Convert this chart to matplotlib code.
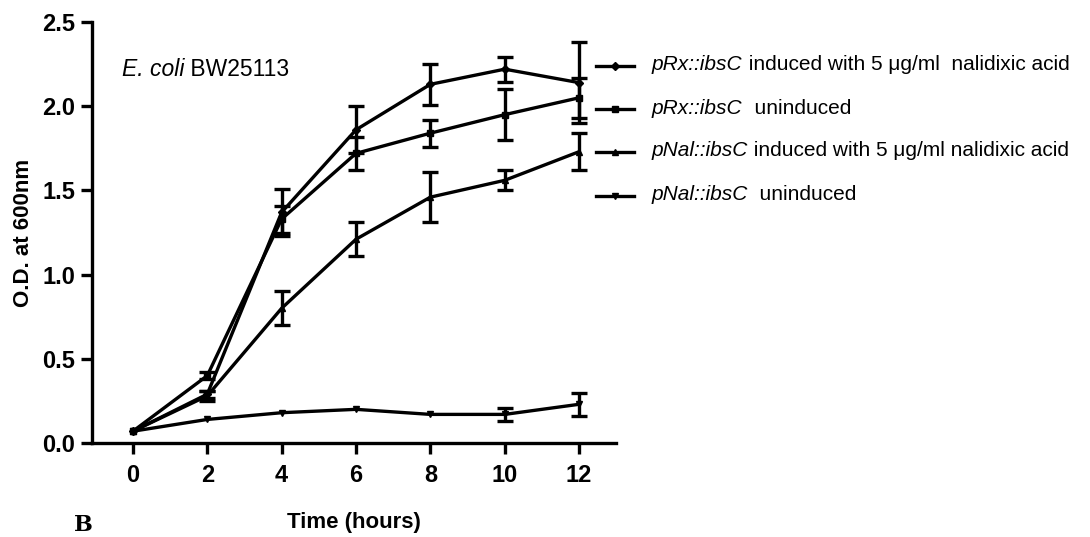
import numpy as np
import matplotlib
matplotlib.use("Agg")
import matplotlib.pyplot as plt

plt.rcParams['font.family'] = ['Liberation Sans', 'DejaVu Sans']

# данные
time_h = [0, 2, 4, 6, 8, 10, 12]

rx_induced = [0.07, 0.29, 1.37, 1.86, 2.13, 2.22, 2.14]
rx_induced_err = [np.nan, 0.02, 0.14, 0.14, 0.12, 0.075, 0.24]

rx_uninduced = [0.07, 0.40, 1.33, 1.72, 1.84, 1.95, 2.05]
rx_uninduced_err = [np.nan, 0.02, 0.08, 0.10, 0.08, 0.15, 0.12]

nal_induced = [0.07, 0.28, 0.80, 1.21, 1.46, 1.56, 1.73]
nal_induced_err = [np.nan, 0.03, 0.10, 0.10, 0.15, 0.06, 0.11]

nal_uninduced = [0.07, 0.14, 0.18, 0.20, 0.17, 0.17, 0.23]
nal_uninduced_err = [np.nan, np.nan, np.nan, np.nan, np.nan, 0.04, 0.07]

legend_parts = [
    ("pRx::ibsC", " induced with 5 \u03bcg/ml  nalidixic acid"),
    ("pRx::ibsC", "  uninduced"),
    ("pNal::ibsC", " induced with 5 \u03bcg/ml nalidixic acid"),
    ("pNal::ibsC", "  uninduced"),
]
markers = ['D', 's', '^', 'v']

fig = plt.figure(figsize=(10.9, 5.37), dpi=100)
ax = fig.add_axes([0.0844, 0.175, 0.481, 0.784])

series = [(rx_induced, rx_induced_err), (rx_uninduced, rx_uninduced_err),
          (nal_induced, nal_induced_err), (nal_uninduced, nal_uninduced_err)]

handles = []
for (vals, errs), m in zip(series, markers):
    h, = ax.plot(time_h, vals, color='black', lw=2.4, marker=m, markersize=4)
    ax.errorbar(time_h, vals, yerr=errs, fmt='none', ecolor='black',
                elinewidth=2.4, capsize=6, capthick=2.4)
    handles.append(h)

ax.set_xlim(-1.1, 13.0)
ax.set_ylim(0, 2.5)
ax.set_xticks(time_h)
ax.set_yticks([0.0, 0.5, 1.0, 1.5, 2.0, 2.5])
ax.set_yticklabels(['0.0', '0.5', '1.0', '1.5', '2.0', '2.5'])
ax.spines['top'].set_visible(False)
ax.spines['right'].set_visible(False)
for s in ['left', 'bottom']:
    ax.spines[s].set_linewidth(2.4)
ax.tick_params(width=2.4, length=8, labelsize=17)
ax.tick_params(axis='x', pad=7)
ax.tick_params(axis='y', pad=4)
for lab in ax.get_xticklabels() + ax.get_yticklabels():
    lab.set_fontweight('bold')

ax.set_xlabel("Time (hours)", fontsize=16, fontweight='bold', labelpad=18)
ax.set_ylabel("O.D. at 600nm", fontsize=16, fontweight='bold', labelpad=6)

# легенда: только линии, подписи рисуем отдельно (курсив + обычный текст)
leg = fig.legend(handles, [' '] * 4, loc='upper left',
                 bbox_to_anchor=(0.533, 0.917), frameon=False,
                 handlelength=2.3, fontsize=12, labelspacing=1.7,
                 handletextpad=0.6)

fig.canvas.draw()
renderer = fig.canvas.get_renderer()


def rich_text(x_px, y_px, parts, size, weight='normal'):
    # parts: список (текст, стиль); выводим подряд в пикселях
    for txt, style in parts:
        t = fig.text(x_px / 1090, 1 - y_px / 537, txt, fontsize=size,
                     style=style, fontweight=weight, va='center', ha='left')
        w = t.get_window_extent(renderer).width
        x_px += w


rows_y = [65, 108, 150, 194]
for (it, rest), y in zip(legend_parts, rows_y):
    rich_text(652, y, [(it, 'italic'), (rest, 'normal')], 15)

rich_text(122, 70, [("E. coli", 'italic'), (" BW25113", 'normal')], 16.5)

fig.text(0.068, 0.002, "B", fontsize=16, fontweight='bold', family='serif',
         va='bottom', ha='left')

fig.savefig("out.png", dpi=100)
